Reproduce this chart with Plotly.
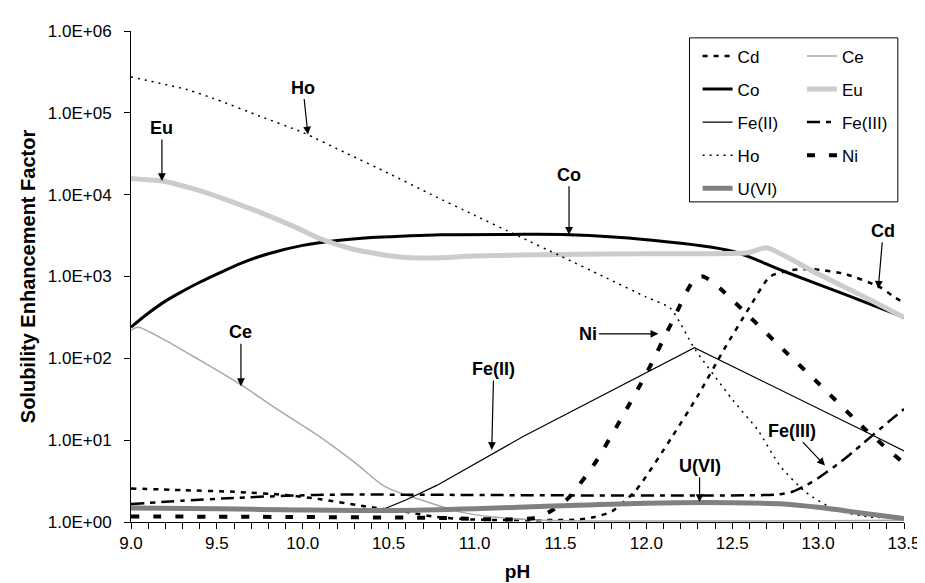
import plotly.graph_objects as go

FONT = "Liberation Sans, Arial, sans-serif"

# ---------------- data ----------------
cd_ph = [9.0, 9.3, 9.6, 9.9, 10.1, 10.34, 10.61, 10.78, 11.0, 11.6, 11.7, 11.8, 11.94, 12.15, 12.3, 12.45, 12.6, 12.72, 12.85, 12.97, 13.16, 13.36, 13.45, 13.5]
cd = [2.57, 2.45, 2.34, 2.14, 1.9, 1.58, 1.32, 1.15, 1.07, 1.07, 1.15, 1.35, 2.45, 11, 35, 126, 417, 1000, 1200, 1230, 1070, 740, 550, 480]

ce_ph = [9.0, 9.04, 9.2, 9.4, 9.63, 9.85, 10.1, 10.3, 10.48, 10.73, 10.92, 11.11, 11.4, 13.5]
ce = [219, 240, 166, 95, 49, 24, 11, 5.4, 2.7, 1.74, 1.32, 1.15, 1.05, 1.05]

co_ph = [9.0, 9.1, 9.2, 9.3, 9.4, 9.5, 9.65, 9.8, 10.0, 10.2, 10.4, 10.6, 10.8, 11.2, 11.55, 12.0, 12.5, 12.8, 13.16, 13.5]
co = [240, 355, 500, 660, 850, 1070, 1480, 1900, 2400, 2750, 2990, 3130, 3240, 3270, 3240, 2820, 2040, 1160, 600, 316]

eu_ph = [9.0, 9.18, 9.4, 9.58, 9.78, 9.96, 10.11, 10.3, 10.55, 10.75, 11.0, 11.5, 12.0, 12.59, 12.7, 13.0, 13.25, 13.5]
eu = [15700, 14700, 11200, 8300, 5750, 3980, 2850, 2140, 1740, 1680, 1780, 1860, 1900, 1950, 2240, 1070, 590, 316]

fe2_ph = [9.0, 9.5, 10.0, 10.45, 10.6, 10.78, 11.28, 12.28, 13.3, 13.5]
fe2 = [1.55, 1.48, 1.38, 1.38, 1.86, 2.8, 11, 135, 12, 7.4]

fe3_ph = [9.0, 9.3, 9.6, 9.9, 10.2, 12.75, 12.85, 12.93, 13.01, 13.13, 13.2, 13.43, 13.5]
fe3 = [1.66, 1.82, 1.97, 2.09, 2.16, 2.16, 2.34, 2.8, 3.55, 5.4, 7.1, 18.2, 24]

ho_ph = [9.0, 9.33, 9.5, 9.75, 10.0, 10.25, 10.5, 10.75, 11.0, 11.25, 11.5, 11.75, 12.0, 12.14, 12.28, 12.5, 12.65, 12.78, 12.93, 13.1, 13.3, 13.5]
ho = [275000, 191000, 145000, 91000, 57500, 32400, 18200, 10000, 5600, 3160, 1780, 1000, 560, 410, 132, 31.6, 13.2, 4.8, 2.3, 1.41, 1.15, 1.15]

ni_ph = [9.0, 10.0, 10.8, 11.2, 11.35, 11.45, 11.55, 11.7, 11.85, 12.0, 12.15, 12.28, 12.33, 12.4, 12.8, 13.0, 13.28, 13.5]
ni = [1.17, 1.15, 1.12, 1.07, 1.12, 1.38, 2.0, 5.2, 17.8, 65, 280, 930, 1000, 810, 126, 50, 13.2, 5.2]

u6_ph = [9.0, 9.5, 10.0, 10.5, 11.0, 11.5, 12.0, 12.5, 12.8, 13.0, 13.25, 13.5]
u6 = [1.48, 1.45, 1.40, 1.38, 1.45, 1.58, 1.70, 1.72, 1.66, 1.51, 1.29, 1.10]

y_tickvals = [1, 10, 100, 1000, 10000, 100000, 1000000]
y_ticktext = ["1.0E+00", "1.0E+01", "1.0E+02", "1.0E+03", "1.0E+04", "1.0E+05", "1.0E+06"]
x_tickvals = [9.0, 9.5, 10.0, 10.5, 11.0, 11.5, 12.0, 12.5, 13.0, 13.5]
x_ticktext = ["9.0", "9.5", "10.0", "10.5", "11.0", "11.5", "12.0", "12.5", "13.0", "13.5"]

# callouts: label, pH at arrow tip, log10 value at arrow tip, text offset (px)
callouts = [
    ("Ho", 10.03, 4.735, -5, -47),
    ("Eu", 9.18, 4.167, 0, -53),
    ("Co", 11.55, 3.51, 0, -60),
    ("Ce", 9.64, 1.66, 0, -54),
    ("Ni", 12.07, 2.30, -70, 0),
    ("Cd", 13.35, 2.85, 5, -58),
    ("Fe(III)", 13.04, 0.69, -33, -35),
    ("Fe(II)", 11.10, 0.88, 2, -81),
    ("U(VI)", 12.31, 0.245, 0, -36),
]

# ---------------- series (name, x, y, style, legend, smooth) ----------------
series = [
    ("Cd", cd_ph, cd, dict(color="black", width=2.5, dash="5px,6px"), "legend", 0.6),
    ("Ce", ce_ph, ce, dict(color="#a8a8a8", width=1.5), "legend2", 0.8),
    ("Co", co_ph, co, dict(color="black", width=3), "legend", 0.9),
    ("Eu", eu_ph, eu, dict(color="#cccccc", width=5), "legend2", 0.6),
    ("Fe(II)", fe2_ph, fe2, dict(color="black", width=1.2), "legend", 0),
    ("Fe(III)", fe3_ph, fe3, dict(color="black", width=2.5, dash="13px,6px,5px,6px"), "legend2", 0.6),
    ("Ho", ho_ph, ho, dict(color="black", width=1.5, dash="2px,5px"), "legend", 0.6),
    ("Ni", ni_ph, ni, dict(color="black", width=4, dash="8px,14px"), "legend2", 0.6),
    ("U(VI)", u6_ph, u6, dict(color="#808080", width=5), "legend", 0.8),
]

fig = go.Figure()
for name, xs, ys, line, leg, sm in series:
    ln = dict(line)
    if sm > 0:
        ln["shape"] = "spline"
        ln["smoothing"] = sm
    fig.add_trace(go.Scatter(
        x=xs, y=ys, mode="lines", name=name, line=ln,
        legend=leg, legendgroup=name,
    ))

annotations = []
for text, px, ly, ax, ay in callouts:
    annotations.append(dict(
        x=px, y=ly, xref="x", yref="y", text=text, showarrow=True,
        ax=ax, ay=ay, arrowhead=2, arrowsize=1.3, arrowwidth=1.2, arrowcolor="black",
        font=dict(family=FONT, size=18, color="black", weight="bold"),
    ))

legend_common = dict(
    font=dict(family=FONT, size=17, color="black"),
    bgcolor="rgba(0,0,0,0)", borderwidth=0,
    traceorder="grouped", tracegroupgap=8,
    xanchor="left", yanchor="top", itemwidth=30,
)

fig.update_layout(
    width=925, height=583,
    margin=dict(l=123, r=20, t=23, b=68),
    paper_bgcolor="white", plot_bgcolor="white",
    font=dict(family=FONT, size=17, color="black"),
    showlegend=True,
    legend=dict(x=0.733, y=0.985, **legend_common),
    legend2=dict(x=0.868, y=0.985, **legend_common),
    annotations=annotations,
    shapes=[dict(type="rect", xref="paper", yref="paper",
                 x0=0.7225, x1=0.992, y0=0.652, y1=0.986,
                 line=dict(color="black", width=1), fillcolor="rgba(0,0,0,0)")],
    xaxis=dict(
        range=[9.0, 13.5], tickvals=x_tickvals, ticktext=x_ticktext,
        ticks="outside", ticklen=6, tickcolor="black", tickwidth=1,
        minor=dict(dtick=0.1, ticks="outside", ticklen=6, tickcolor="black", tickwidth=1),
        showline=True, linecolor="black", linewidth=1, showgrid=False, zeroline=False,
        title=dict(text="<b>pH</b>", font=dict(family=FONT, size=19), standoff=12),
        tickfont=dict(family=FONT, size=17),
    ),
    yaxis=dict(
        type="log", range=[0, 6], tickvals=y_tickvals, ticktext=y_ticktext,
        ticks="outside", ticklen=6, tickcolor="black", tickwidth=1,
        ticklabelstandoff=9,
        showline=True, linecolor="black", linewidth=1, showgrid=False, zeroline=False,
        title=dict(text="<b>Solubility Enhancement Factor</b>", font=dict(family=FONT, size=20), standoff=6),
        tickfont=dict(family=FONT, size=17),
    ),
)

fig.write_html("out.html")
